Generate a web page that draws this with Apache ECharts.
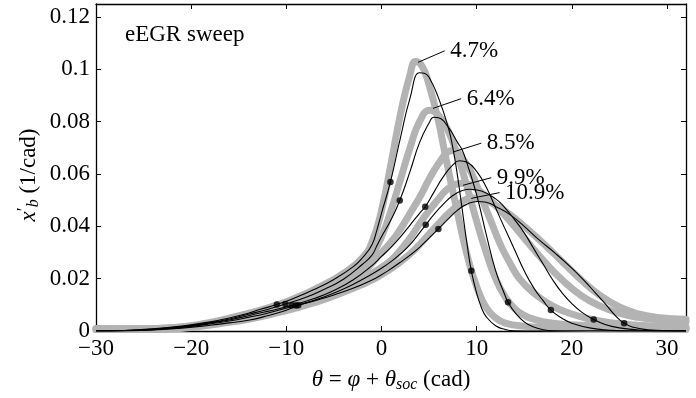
<!DOCTYPE html>
<html>
<head>
<meta charset="utf-8">
<script src="https://cdn.jsdelivr.net/npm/echarts@6/dist/echarts.min.js"></script>
<style>html,body{margin:0;padding:0;background:#fff}#c{width:696px;height:398px}</style>
</head>
<body>
<div id="c"></div>
<script>
// ---------- data ----------
const caseNames = ['4.7%', '6.4%', '8.5%', '9.9%', '10.9%'];

const xTicks = [-30, -20, -10, 0, 10, 20, 30];
const xTickLabels = ['\u221230', '\u221220', '\u221210', '0', '10', '20', '30'];
const yTicks = [0, 0.02, 0.04, 0.06, 0.08, 0.1, 0.12];
const yTickLabels = ['0', '0.02', '0.04', '0.06', '0.08', '0.1', '0.12'];

// measured (thick grey) curves
const meas47 = [[-30,0.001],[-25,0.0009],[-22,0.0013],[-20,0.002],[-18,0.0033],[-16,0.0049],[-14,0.0067],[-12,0.0088],[-10,0.0112],[-8,0.0142],[-6,0.0178],[-4,0.022],[-2,0.028],[-1,0.034],[0,0.046],[1,0.064],[2,0.083],[3,0.098],[3.6,0.103],[4.3,0.101],[5,0.094],[6,0.08],[6.5,0.071],[7,0.062],[8,0.045],[9,0.029],[10,0.017],[11,0.009],[12,0.005],[13,0.003],[15,0.0018],[18,0.0012],[22,0.001],[27,0.0008],[32,0.0006]];
const meas64 = [[-30,0.0008],[-25,0.0008],[-22,0.0012],[-20,0.0018],[-18,0.003],[-16,0.0045],[-14,0.0063],[-12,0.0083],[-10,0.0105],[-8,0.0132],[-6,0.0163],[-4,0.02],[-2,0.025],[-1,0.029],[0,0.036],[1,0.046],[2,0.058],[3,0.07],[4,0.08],[5.1,0.0844],[6,0.0825],[7,0.0765],[8,0.067],[9,0.055],[10,0.042],[11,0.03],[12,0.02],[13,0.013],[14,0.0085],[15,0.006],[16,0.0045],[18,0.003],[21,0.0022],[25,0.0015],[32,0.001]];
const meas85 = [[-30,0.0007],[-25,0.0007],[-22,0.0011],[-20,0.0016],[-18,0.0028],[-16,0.0041],[-14,0.0057],[-12,0.0075],[-10,0.0093],[-8,0.0115],[-6,0.0142],[-4,0.0175],[-2,0.0222],[-0.5,0.028],[1,0.034],[2,0.039],[3,0.045],[4,0.051],[5,0.058],[6,0.064],[7,0.0685],[7.5,0.069],[8.5,0.066],[9.5,0.06],[10.5,0.051],[11.5,0.042],[12.5,0.033],[13.5,0.026],[14.5,0.02],[16,0.0145],[18,0.0095],[20,0.0065],[22,0.0045],[24,0.0032],[27,0.0022],[32,0.0015]];
const meas99 = [[-30,0.0006],[-25,0.0006],[-22,0.001],[-20,0.0015],[-18,0.0026],[-16,0.0038],[-14,0.0052],[-12,0.0068],[-10,0.0086],[-8,0.0107],[-6,0.0132],[-4,0.0162],[-2,0.0198],[-1,0.022],[1,0.027],[2,0.031],[3,0.0355],[4,0.041],[5,0.046],[6,0.0505],[7,0.0545],[8,0.0562],[8.6,0.0565],[9.5,0.0555],[10.5,0.053],[12,0.048],[13.5,0.042],[15,0.0355],[17,0.027],[19,0.0195],[21,0.0135],[23,0.0095],[25,0.0068],[27,0.0052],[29,0.0043],[32,0.0035]];
const meas109 = [[-30,0.0006],[-25,0.0006],[-22,0.0009],[-20,0.0013],[-18,0.0023],[-16,0.0033],[-14,0.0045],[-12,0.006],[-10,0.0078],[-8,0.0098],[-6,0.0121],[-4,0.0148],[-2,0.0178],[-1,0.0195],[1,0.0238],[3,0.0295],[4,0.033],[5,0.037],[6,0.041],[7,0.0448],[8,0.048],[9,0.0505],[9.5,0.0508],[10.5,0.0505],[12,0.048],[13.5,0.0445],[15,0.04],[17,0.0335],[19,0.0265],[21,0.0195],[23,0.0135],[25,0.0092],[27,0.0065],[29,0.0052],[32,0.0045]];

// model (thin black) curves
const model47 = [[-30,0],[-27,0.0002],[-24,0.0008],[-21,0.0019],[-18,0.0035],[-16,0.005],[-14,0.0068],[-12.8,0.0082],[-11,0.0101],[-9,0.0128],[-7,0.016],[-5,0.0197],[-3,0.0245],[-2,0.028],[-1,0.033],[-0.5,0.0384],[0,0.045],[0.94,0.057],[2,0.074],[3,0.089],[4,0.0987],[4.5,0.0985],[5,0.097],[6,0.089],[7,0.078],[7.5,0.07],[8,0.059],[8.5,0.046],[9,0.033],[9.44,0.023],[10,0.0145],[10.5,0.009],[11,0.0055],[12,0.002],[13,0.0006],[14,0.0001],[16,0],[32,0]];
const model64 = [[-30,0],[-27,0.0002],[-24,0.0007],[-21,0.0017],[-18,0.0032],[-16,0.0046],[-14,0.0064],[-12,0.0082],[-10.1,0.0103],[-8,0.0128],[-6,0.016],[-4,0.0198],[-2,0.0255],[-1,0.029],[-0.5,0.0325],[0,0.036],[1,0.0425],[1.92,0.0499],[3,0.061],[4,0.072],[5,0.0795],[5.5,0.0817],[6,0.0815],[7,0.078],[8,0.072],[8.5,0.069],[9,0.064],[10,0.052],[11,0.037],[12,0.023],[13,0.0135],[13.3,0.011],[14,0.0072],[15,0.0035],[16,0.0015],[17,0.0005],[18,0.0001],[20,0],[32,0]];
const model85 = [[-30,0],[-27,0.0001],[-24,0.0006],[-21,0.0015],[-18,0.003],[-16,0.0042],[-14,0.0058],[-12,0.0075],[-9.4,0.0098],[-7,0.0125],[-5,0.0155],[-3,0.0195],[-1,0.025],[0,0.0285],[1,0.032],[2,0.036],[3,0.0405],[4,0.045],[4.6,0.0475],[5.5,0.053],[6.5,0.059],[7.5,0.0635],[8.2,0.0651],[9,0.0645],[10,0.061],[11,0.055],[12,0.047],[12.9,0.0397],[14,0.031],[15,0.023],[16,0.0165],[17,0.0115],[17.8,0.008],[19,0.0048],[20,0.003],[22,0.0011],[24,0.0003],[26,0],[32,0]];
const model99 = [[-30,0],[-27,0.0001],[-24,0.0005],[-21,0.0014],[-18,0.0027],[-16,0.0038],[-14,0.0052],[-12,0.0068],[-9,0.0097],[-7,0.0118],[-5,0.0145],[-3,0.0178],[-1,0.0218],[0,0.024],[1,0.0265],[2,0.0295],[3,0.033],[4,0.0375],[4.65,0.0406],[5.5,0.0445],[6.5,0.0485],[7.5,0.0518],[8.5,0.0537],[9.3,0.0542],[10.5,0.0535],[12,0.0505],[13,0.047],[14,0.0425],[15,0.0375],[16,0.0315],[17,0.0255],[18,0.0195],[19,0.0145],[20,0.0105],[21,0.0073],[22.3,0.0044],[23.5,0.0025],[25,0.0012],[27,0.0004],[29,0.0001],[32,0]];
const model109 = [[-30,0],[-27,0.0001],[-24,0.0004],[-21,0.0011],[-18,0.0022],[-16,0.0031],[-14,0.0041],[-12,0.0058],[-10,0.0079],[-8.75,0.0098],[-7,0.0116],[-5,0.0138],[-3,0.0163],[-1,0.0195],[0,0.0215],[1,0.0238],[2,0.0263],[3,0.029],[4,0.032],[5,0.0355],[5.98,0.039],[7,0.0428],[8,0.0462],[9,0.0485],[10.1,0.0495],[11,0.0492],[12.3,0.047],[13.5,0.0445],[15,0.04],[16.5,0.035],[18.3,0.0296],[20,0.024],[21.5,0.0185],[22.5,0.0145],[23.5,0.0105],[24.5,0.0062],[25.5,0.003],[26.5,0.0014],[28,0.0005],[30,0.0001],[32,0]];

// marked points on the model curves
const dotsStart = [[-11.0,0.0101],[-10.1,0.0103],[-9.4,0.0098],[-9.0,0.0097],[-8.75,0.0098]];
const dotsMid = [[0.94,0.057],[1.92,0.0499],[4.6,0.0475],[4.65,0.0406],[5.98,0.039]];
const dotsEnd = [[9.44,0.023],[13.3,0.011],[17.8,0.008],[22.3,0.0044],[25.5,0.003]];

// label leader lines: [from, to] in data units
const leaderFrom = [[3.84,0.1027],[5.41,0.0851],[7.51,0.0684],[8.56,0.0557],[9.44,0.0507]];
const leaderTo = [[6.64,0.1071],[8.37,0.0888],[10.49,0.0718],[11.54,0.0586],[12.41,0.0529]];

// ---------- chart ----------
const FONT = 'Liberation Serif';
const FS = 23;
const measured = [meas47, meas64, meas85, meas99, meas109];
const models = [model47, model64, model85, model99, model109];

function fmt(ticks, labels) {
  return v => {
    for (let i = 0; i < ticks.length; i++) if (Math.abs(v - ticks[i]) < 1e-9) return labels[i];
    return '';
  };
}

const series = [];
measured.forEach((d, i) => series.push({
  type: 'line', data: d, showSymbol: false, smooth: 0.5,
  lineStyle: { color: '#b3b3b3', width: 7, cap: 'round', join: 'round' }, z: 1, silent: true
}));
models.forEach((d, i) => series.push({
  type: 'line', data: d, showSymbol: false, smooth: 0.5,
  lineStyle: { color: '#000', width: 1.1 }, z: 2, silent: true
}));
series.push({
  type: 'scatter', data: dotsStart.concat(dotsMid, dotsEnd), symbolSize: 6.5,
  itemStyle: { color: '#000' }, z: 3, silent: true
});
caseNames.forEach((nm, i) => series.push({
  type: 'line', z: 4, silent: true,
  data: [
    { value: leaderFrom[i], symbolSize: 0 },
    { value: leaderTo[i], symbolSize: 1,
      label: { show: true, position: 'right', distance: 5, formatter: nm,
               fontFamily: FONT, fontSize: FS, color: '#000' } }
  ],
  symbol: 'circle', showSymbol: true,
  itemStyle: { color: 'rgba(0,0,0,0)' },
  lineStyle: { color: '#000', width: 1 }
}));

const axisCommon = {
  axisLine: { show: true, onZero: false, lineStyle: { color: '#000', width: 1.3 } },
  axisTick: { show: true, inside: true, length: 5, lineStyle: { color: '#000', width: 1 } },
  splitLine: { show: false }
};

const option = {
  animation: false,
  backgroundColor: '#fff',
  grid: { left: 96, right: 10, top: 4, bottom: 63 },
  xAxis: [
    Object.assign({
      type: 'value', min: -30, max: 32, interval: 10, position: 'bottom',
      axisLabel: { formatter: fmt(xTicks, xTickLabels), fontFamily: FONT, fontSize: FS, color: '#000', margin: 6 },
      name: '{i|\u03B8} = {i|\u03C6} + {i|\u03B8}{s|soc} (cad)',
      nameLocation: 'middle', nameGap: 36,
      nameTextStyle: { fontFamily: FONT, fontSize: FS, color: '#000',
        rich: { i: { fontFamily: FONT, fontSize: FS, fontStyle: 'italic', lineHeight: 26 },
                s: { fontFamily: FONT, fontSize: 16, fontStyle: 'italic', lineHeight: 13, verticalAlign: 'bottom' } } }
    }, axisCommon),
    Object.assign({
      type: 'value', min: -30, max: 32, interval: 10, position: 'top',
      axisLabel: { show: false }
    }, axisCommon)
  ],
  yAxis: [
    Object.assign({
      type: 'value', min: 0, max: 0.125, interval: 0.02, position: 'left',
      axisLabel: { formatter: fmt(yTicks, yTickLabels), fontFamily: FONT, fontSize: FS, color: '#000', margin: 6 }
    }, axisCommon),
    Object.assign({
      type: 'value', min: 0, max: 0.125, interval: 0.02, position: 'right',
      axisLabel: { show: false }
    }, axisCommon)
  ],
  graphic: [{
    type: 'text', left: 125, top: 23,
    style: { text: 'eEGR sweep', font: FS + 'px "Liberation Serif"', fill: '#000' }
  }, {
    type: 'text', x: 29, y: 175, rotation: Math.PI / 2,
    style: {
      text: '{i|x}{p|\u2032}{s|b} (1/cad)',
      font: FS + 'px "Liberation Serif"', fill: '#000', align: 'center', verticalAlign: 'middle',
      rich: { i: { fontFamily: FONT, fontSize: FS, fontStyle: 'italic', lineHeight: 26 },
              p: { fontFamily: FONT, fontSize: 18, lineHeight: 14, verticalAlign: 'top' },
              s: { fontFamily: FONT, fontSize: 16, fontStyle: 'italic', lineHeight: 13, verticalAlign: 'bottom' } }
    }
  }],
  series: series
};

const chart = echarts.init(document.getElementById('c'), null, { renderer: 'canvas' });
chart.setOption(option);
</script>
</body>
</html>
